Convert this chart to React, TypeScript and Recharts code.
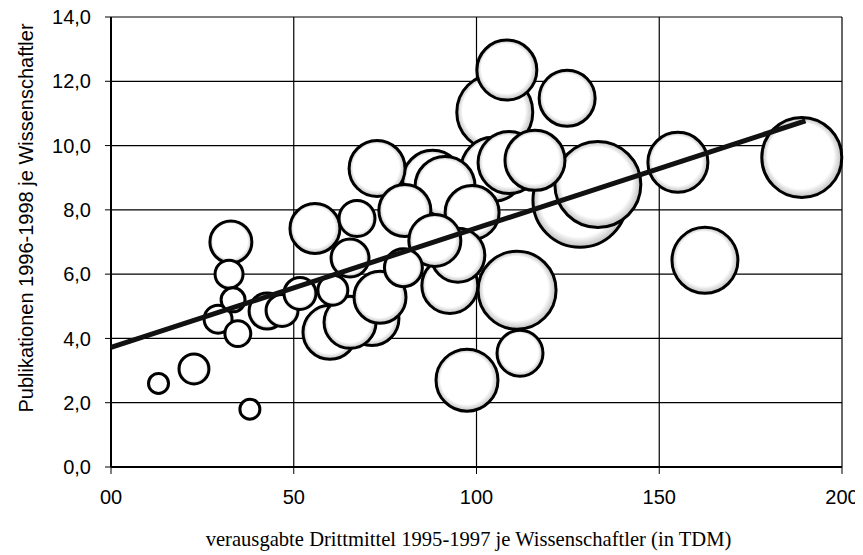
import React from 'react';
import {
  ScatterChart,
  Scatter,
  XAxis,
  YAxis,
  ZAxis,
  CartesianGrid,
} from 'recharts';

// verausgabte Drittmittel je Wissenschaftler (TDM)
const drittmittel = [
  13, 22.7, 38, 32.8, 32.3, 33.4, 29.3, 34.7, 42.7, 46.8, 51.7, 59.9, 65.4,
  71.4, 60.7, 65.4, 80, 73.6, 72.8, 80.4, 67.3, 55.8, 88, 91.4, 108.3, 124.8,
  105, 108.9, 104.5, 116, 133.2, 128.3, 98.8, 155.1, 189, 162.5, 111.1, 111.9,
  97.4, 94.9, 92.7, 88.6,
];
// Publikationen je Wissenschaftler
const publikationen = [
  2.6, 3.05, 1.8, 7.0, 6.0, 5.2, 4.6, 4.15, 4.85, 4.87, 5.4, 4.19, 4.5, 4.62,
  5.5, 6.5, 6.2, 5.28, 9.29, 7.98, 7.73, 7.42, 8.92, 8.73, 12.35, 11.47, 11.04,
  9.47, 9.26, 9.54, 8.79, 8.3, 7.92, 9.48, 9.63, 6.43, 5.5, 3.54, 2.7, 6.59,
  5.65, 7.05,
];
// Blasengroesse (Anzahl Wissenschaftler)
const groesse = [
  25, 56, 25, 110, 49, 36, 49, 42, 81, 64, 64, 182, 169, 182, 56, 90, 90, 169,
  196, 169, 81, 156, 225, 225, 225, 196, 361, 240, 256, 225, 462, 552, 182,
  225, 400, 272, 380, 132, 240, 182, 196, 169,
];

const trendX = [0, 190];
const trendY = [3.72, 10.77];

const xTicks = [0, 50, 100, 150, 200];
const yTicks = [0, 2, 4, 6, 8, 10, 12, 14];

const bubbles = drittmittel
  .map((x, i) => ({ x, y: publikationen[i], z: groesse[i] }))
  .sort((a, b) => b.z - a.z);

const trend = trendX.map((x, i) => ({ x, y: trendY[i] }));

const tickStyle = {
  fontSize: 20,
  fill: '#000',
  fontFamily: '"Liberation Sans", Arial, sans-serif',
};

const YLabel = (props: any) => {
  const { viewBox } = props;
  const cx = viewBox.x + 18;
  const cy = viewBox.y + viewBox.height / 2 - 24;
  return (
    <text
      x={cx}
      y={cy}
      transform={`rotate(-90 ${cx} ${cy})`}
      textAnchor="middle"
      dominantBaseline="central"
      fontSize={20}
      fontFamily='"Liberation Sans", Arial, sans-serif'
      fill="#000"
    >
      Publikationen 1996-1998 je Wissenschaftler
    </text>
  );
};

export default function App() {
  return (
    <div style={{ width: 855, height: 547 }}>
      <ScatterChart
        width={855}
        height={547}
        margin={{ top: 9, right: 21, left: 0, bottom: 6 }}
        style={{ overflow: 'visible' }}
      >
        <defs>
          <radialGradient id="shade" cx="0.5" cy="0.5" r="0.5" fx="0.42" fy="0.38">
            <stop offset="0" stopColor="#fff" />
            <stop offset="0.82" stopColor="#fff" />
            <stop offset="1" stopColor="#bdbdbd" />
          </radialGradient>
        </defs>
        <CartesianGrid stroke="#000" strokeWidth={1.2} />
        <XAxis
          type="number"
          dataKey="x"
          domain={[0, 200]}
          ticks={xTicks}
          interval={0}
          height={82}
          tick={tickStyle}
          tickSize={7}
          tickMargin={16}
          tickLine={{ stroke: '#000' }}
          axisLine={{ stroke: '#000', strokeWidth: 2 }}
          tickFormatter={(v: number) => (v === 0 ? '00' : String(v))}
          label={{
            value: 'verausgabte Drittmittel 1995-1997 je Wissenschaftler (in TDM)',
            position: 'insideBottom',
            offset: 3,
            dx: -8,
            style: {
              fontSize: 20.6,
              fill: '#000',
              fontFamily: '"Liberation Serif", "Times New Roman", serif',
            },
          }}
        />
        <YAxis
          type="number"
          dataKey="y"
          domain={[0, 14]}
          ticks={yTicks}
          interval={0}
          width={103}
          tick={tickStyle}
          tickSize={6}
          tickMargin={14}
          tickLine={{ stroke: '#000' }}
          axisLine={{ stroke: '#000', strokeWidth: 2 }}
          tickFormatter={(v: number) => v.toFixed(1).replace('.', ',')}
          label={<YLabel />}
        />
        <ZAxis type="number" dataKey="z" domain={[0, 600]} range={[0, 7540]} />
        <Scatter
          data={bubbles}
          fill="url(#shade)"
          stroke="#000"
          strokeWidth={3}
          isAnimationActive={false}
        />
        <Scatter
          data={trend}
          line={{ stroke: '#111', strokeWidth: 5 }}
          shape={() => <g />}
          isAnimationActive={false}
        />
      </ScatterChart>
    </div>
  );
}
